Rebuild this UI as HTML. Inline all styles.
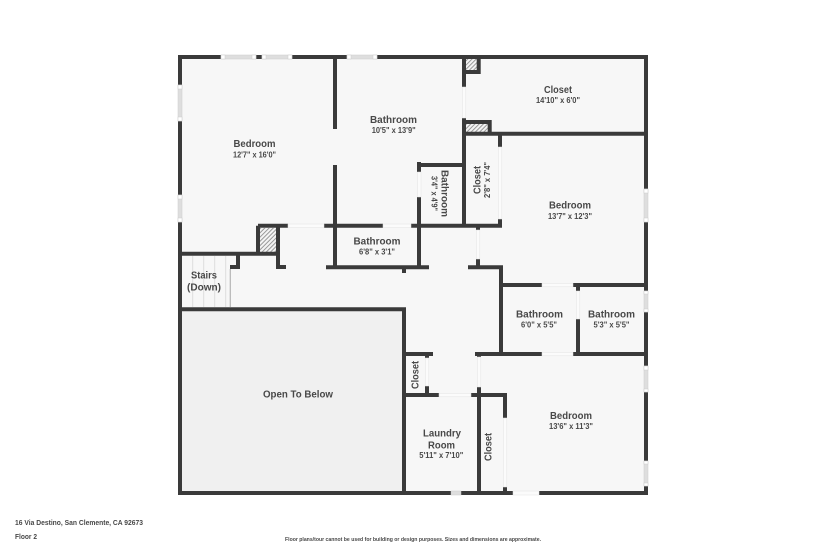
<!DOCTYPE html>
<html><head><meta charset="utf-8"><style>
html,body{margin:0;padding:0;background:#fff}
svg{display:block;filter:blur(.35px)}
text{font-family:"Liberation Sans",sans-serif;fill:#484848;text-anchor:middle}
.t{font-size:10px;font-weight:bold}
.d{font-size:8px;font-weight:bold}
.w{stroke:#3a3a3a;stroke-width:4;fill:none}
.o{fill:#fbfbfb;stroke:#e2e2e2;stroke-width:.5}
.g{fill:#dedede;stroke:#ccc;stroke-width:.5}
.c{fill:#fff;stroke:#ccc;stroke-width:.5}
</style></head><body>
<svg width="825" height="550" viewBox="0 0 825 550" xmlns="http://www.w3.org/2000/svg">
<defs><pattern id="h" width="3" height="3" patternUnits="userSpaceOnUse" patternTransform="rotate(45)"><rect width="3" height="3" fill="#f4f4f4"/><rect width="1" height="3" fill="#999"/></pattern></defs>
<rect x="180" y="57" width="466" height="436" fill="#f7f7f7"/>
<rect x="182" y="311" width="220" height="180" fill="#f0f0f0"/>
<rect x="260" y="228" width="16" height="24" fill="url(#h)"/>
<rect x="466" y="59" width="11" height="11" fill="url(#h)"/>
<rect x="466" y="124" width="22" height="8" fill="url(#h)"/>
<g stroke="#ddd" stroke-width="1"><path d="M192.700 256V307M203.700 256V307M214.700 256V307M225.700 256V307"/></g>
<path d="M230.300 269V307" stroke="#b5b5b5" stroke-width="1.200"/>
<g class="w">
<path d="M180 57H646V493H180Z"/>
<path d="M335 57V129M335 165V267"/>
<path d="M258 225.700H288M324 225.700H383M411 225.700H502"/>
<path d="M258 225.700V254M180 253.700H280M278 225.700V269M276 267H286M238 254V267M230 267H240"/>
<path d="M326 267.300H429M404 267V273"/>
<path d="M419 162V172M419 197V267M419 165H464"/>
<path d="M464 57V87M464 118V226M464 72H480M478.700 57V74"/>
<path d="M464 122H489.700V134M464 133.700H646"/>
<path d="M500 133V147M500 219V227"/>
<path d="M478 226V230M478 259V267M468 267.300H503M501 267V354"/>
<path d="M501 285H542M573 285H646M578 285V291M578 319V354"/>
<path d="M475 354H542M573 354H646"/>
<path d="M479 354V357M479 387V493"/>
<path d="M404 309.300V493M180 309.300H406"/>
<path d="M404 395H439M471 395H507M505 395V418M505 487V493"/>
<path d="M404 354H433M427 354V358M427 386V395"/>
</g>
<g class="o">
<rect x="288" y="224" width="36" height="3.500"/><rect x="383" y="224" width="28" height="3.500"/>
<rect x="417.500" y="172" width="3.500" height="25"/><rect x="462.300" y="87" width="3.500" height="31"/>
<rect x="498.300" y="147" width="3.500" height="72"/><rect x="476.300" y="230" width="3.500" height="29"/>
<rect x="542" y="283.300" width="31" height="3.500"/><rect x="576.300" y="291" width="3.500" height="28"/>
<rect x="542" y="352.300" width="31" height="3.500"/><rect x="477.300" y="357" width="3.500" height="30"/>
<rect x="439" y="393.300" width="32" height="3.500"/><rect x="425.300" y="358" width="3.500" height="28"/>
<rect x="503.300" y="418" width="3.500" height="69"/><rect x="513" y="491" width="26" height="4"/>
</g>
<g class="g">
<rect x="221" y="55" width="35" height="4"/><rect x="262" y="55" width="30" height="4"/><rect x="347" y="55" width="30" height="4"/>
<rect x="178" y="85" width="4" height="36"/><rect x="178" y="195" width="4" height="27"/>
<rect x="644" y="189" width="4" height="33"/><rect x="644" y="291" width="4" height="21"/><rect x="644" y="366" width="4" height="26"/><rect x="644" y="461" width="4" height="25"/>
<rect x="451" y="491" width="10" height="4"/>
</g>
<g class="c">
<rect x="221" y="55" width="4" height="4"/><rect x="252" y="55" width="4" height="4"/><rect x="262" y="55" width="4" height="4"/><rect x="288" y="55" width="4" height="4"/><rect x="347" y="55" width="4" height="4"/><rect x="373" y="55" width="4" height="4"/>
<rect x="178" y="85" width="4" height="4"/><rect x="178" y="117" width="4" height="4"/><rect x="178" y="195" width="4" height="4"/><rect x="178" y="218" width="4" height="4"/>
<rect x="644" y="189" width="4" height="4"/><rect x="644" y="218" width="4" height="4"/><rect x="644" y="291" width="4" height="3"/><rect x="644" y="309" width="4" height="3"/><rect x="644" y="366" width="4" height="4"/><rect x="644" y="389" width="4" height="3"/><rect x="644" y="461" width="4" height="3"/><rect x="644" y="483" width="4" height="3"/>
</g>
<text class="t" x="254.500" y="147" textLength="42" lengthAdjust="spacingAndGlyphs">Bedroom</text>
<text class="d" x="254.500" y="157.500" textLength="43" lengthAdjust="spacingAndGlyphs">12'7" x 16'0"</text>
<text class="t" x="393.500" y="123" textLength="47" lengthAdjust="spacingAndGlyphs">Bathroom</text>
<text class="d" x="393.700" y="133" textLength="44" lengthAdjust="spacingAndGlyphs">10'5" x 13'9"</text>
<text class="t" x="377" y="244.500" textLength="47" lengthAdjust="spacingAndGlyphs">Bathroom</text>
<text class="d" x="377" y="254.500" textLength="36" lengthAdjust="spacingAndGlyphs">6'8" x 3'1"</text>
<text class="t" x="204" y="278.500" textLength="26" lengthAdjust="spacingAndGlyphs">Stairs</text>
<text class="t" x="204" y="290.500" textLength="34" lengthAdjust="spacingAndGlyphs">(Down)</text>
<text class="t" x="298" y="397.500" textLength="70" lengthAdjust="spacingAndGlyphs">Open To Below</text>
<text class="t" x="558" y="93" textLength="28" lengthAdjust="spacingAndGlyphs">Closet</text>
<text class="d" x="558" y="103" textLength="44" lengthAdjust="spacingAndGlyphs">14'10" x 6'0"</text>
<text class="t" x="570" y="208.500" textLength="42" lengthAdjust="spacingAndGlyphs">Bedroom</text>
<text class="d" x="570" y="219" textLength="44" lengthAdjust="spacingAndGlyphs">13'7" x 12'3"</text>
<text class="t" x="539.500" y="317.500" textLength="47" lengthAdjust="spacingAndGlyphs">Bathroom</text>
<text class="d" x="539" y="327.500" textLength="36" lengthAdjust="spacingAndGlyphs">6'0" x 5'5"</text>
<text class="t" x="611.500" y="317.500" textLength="47" lengthAdjust="spacingAndGlyphs">Bathroom</text>
<text class="d" x="611.500" y="327.500" textLength="36" lengthAdjust="spacingAndGlyphs">5'3" x 5'5"</text>
<text class="t" x="571" y="419" textLength="42" lengthAdjust="spacingAndGlyphs">Bedroom</text>
<text class="d" x="571" y="429" textLength="44" lengthAdjust="spacingAndGlyphs">13'6" x 11'3"</text>
<text class="t" x="442" y="436.500" textLength="38" lengthAdjust="spacingAndGlyphs">Laundry</text>
<text class="t" x="441.500" y="448.500" textLength="27" lengthAdjust="spacingAndGlyphs">Room</text>
<text class="d" x="441.300" y="458" textLength="44" lengthAdjust="spacingAndGlyphs">5'11" x 7'10"</text>
<text class="t" transform="translate(441.500 193.500) rotate(90)" textLength="47" lengthAdjust="spacingAndGlyphs">Bathroom</text>
<text class="d" transform="translate(431.500 193.500) rotate(90)" textLength="35" lengthAdjust="spacingAndGlyphs">3'4" x 4'9"</text>
<text class="t" transform="translate(480.300 180) rotate(-90)" textLength="28" lengthAdjust="spacingAndGlyphs">Closet</text>
<text class="d" transform="translate(490 180) rotate(-90)" textLength="36" lengthAdjust="spacingAndGlyphs">2'8" x 7'4"</text>
<text class="t" transform="translate(418.700 375) rotate(-90)" textLength="28" lengthAdjust="spacingAndGlyphs">Closet</text>
<text class="t" transform="translate(491.700 447) rotate(-90)" textLength="28" lengthAdjust="spacingAndGlyphs">Closet</text>
<text x="15" y="525" font-size="7.500" font-weight="bold" style="text-anchor:start" textLength="128" lengthAdjust="spacingAndGlyphs">16 Via Destino, San Clemente, CA 92673</text>
<text x="15" y="539" font-size="7.500" font-weight="bold" style="text-anchor:start" textLength="22" lengthAdjust="spacingAndGlyphs">Floor 2</text>
<text x="285" y="541" font-size="5.500" font-weight="bold" style="text-anchor:start" textLength="256" lengthAdjust="spacingAndGlyphs">Floor plans/tour cannot be used for building or design purposes. Sizes and dimensions are approximate.</text>
</svg>
</body></html>
